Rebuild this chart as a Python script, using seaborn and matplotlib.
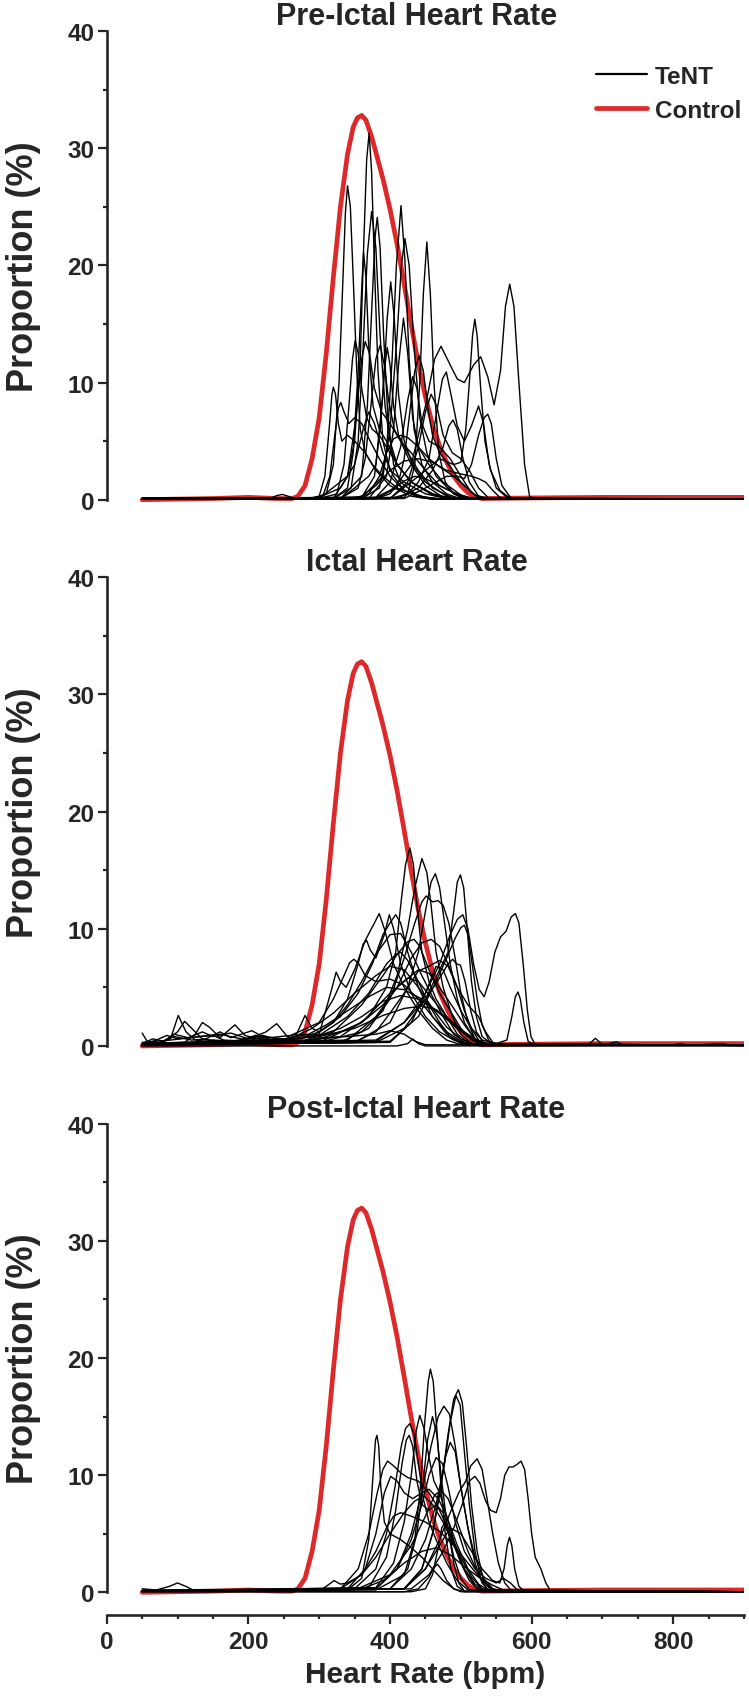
import numpy as np
import pandas as pd
import matplotlib
matplotlib.use("Agg")
import matplotlib.pyplot as plt
import seaborn as sns
from matplotlib.lines import Line2D
from matplotlib.ticker import MultipleLocator

# ---------------- data ----------------
panel_titles = ["Pre-Ictal Heart Rate", "Ictal Heart Rate", "Post-Ictal Heart Rate"]
x_label = "Heart Rate (bpm)"
y_label = "Proportion (%)"
legend_labels = ["TeNT", "Control"]
x_ticks = [0, 200, 400, 600, 800]
y_ticks = [0, 10, 20, 30, 40]

# Control (same distribution shown in every panel): (heart rate, proportion %)
control_curve = [(50, 0.0), (100, 0.05), (150, 0.1), (200, 0.2), (240, 0.1), (262, 0.1),
                 (270, 0.3), (280, 1.2), (290, 3.5), (300, 7.0), (310, 12.5), (320, 19.0),
                 (330, 25.0), (340, 29.5), (348, 31.8), (354, 32.6), (360, 32.8), (366, 32.4),
                 (374, 31.0), (382, 29.2), (390, 27.4), (400, 24.8), (410, 21.8), (420, 18.4),
                 (430, 14.9), (440, 11.6), (450, 8.8), (460, 6.4), (470, 4.6), (480, 3.2),
                 (490, 2.0), (500, 1.2), (510, 0.6), (520, 0.25), (530, 0.1), (600, 0.15),
                 (700, 0.2), (800, 0.2), (900, 0.2)]

# TeNT animals, pre-ictal period
pre_ictal_tent = [
    [(50,0.1),(300,0.1),(340,2.0),(350,5.0),(358,12.0),(363,22.0),(367,29.0),(370.5,31.3),(374,28.0),(378,20.0),(383,11.0),(390,5.0),(400,2.5),(420,1.5),(450,0.5),(480,0.1),(900,0.05)],
    [(50,0.1),(290,0.1),(310,0.5),(320,3.0),(328,10.0),(333,18.0),(337,24.5),(340,26.8),(344,25.0),(348,19.0),(353,11.0),(358,6.0),(365,4.0),(375,3.0),(390,2.0),(410,1.0),(440,0.3),(470,0.05),(900,0.05)],
    [(50,0.05),(320,0.1),(345,1.0),(355,5.0),(362,13.0),(368,21.0),(374,24.6),(380,21.5),(386,14.0),(393,8.0),(400,5.0),(410,3.0),(430,1.5),(460,0.5),(490,0.05),(900,0.05)],
    [(50,0.1),(330,0.1),(360,2.0),(368,8.0),(374,16.0),(379,22.5),(382,24.1),(386,21.5),(391,14.0),(397,7.0),(405,3.0),(415,1.5),(440,0.3),(470,0.05),(900,0.05)],
    [(50,0.1),(320,0.1),(340,1.0),(348,4.0),(355,11.0),(360,18.0),(362.6,21.1),(366,19.0),(370,13.0),(376,8.0),(385,6.0),(395,5.0),(410,3.0),(430,1.5),(460,0.5),(490,0.05),(900,0.05)],
    [(50,0.05),(360,0.1),(385,1.0),(395,4.0),(403,12.0),(409,20.0),(415.5,25.1),(421,20.5),(427,12.0),(434,6.0),(445,3.0),(460,1.5),(480,0.5),(500,0.05),(900,0.05)],
    [(50,0.1),(360,0.2),(390,2.0),(400,6.0),(410,14.0),(416,20.0),(421,22.3),(427,20.0),(434,13.0),(442,7.0),(452,4.0),(465,2.0),(490,0.5),(510,0.05),(900,0.05)],
    [(50,0.05),(400,0.1),(425,0.5),(435,3.0),(442,10.0),(447,17.5),(452,22.0),(457,17.5),(462,10.0),(469,4.0),(478,1.5),(490,0.5),(505,0.05),(900,0.05)],
    [(50,0.1),(380,0.1),(400,0.5),(430,3.0),(450,8.0),(463,12.0),(472,13.1),(485,11.5),(495,10.3),(505,10.0),(518,11.5),(528,12.2),(538,10.5),(547,8.1),(556,11.0),(563,16.5),(569,18.4),(575,16.5),(582,10.0),(590,3.0),(597,0.3),(605,0.05),(900,0.05)],
    [(50,0.05),(400,0.1),(440,2.0),(470,3.5),(490,3.0),(500,3.2),(507,6.0),(512,10.0),(516.5,14.0),(519.7,15.4),(523,14.0),(528,9.5),(534,5.0),(542,2.5),(555,0.8),(570,0.1),(900,0.05)],
    [(50,0.1),(330,0.1),(350,1.0),(370,2.0),(380,3.0),(390,9.0),(396,15.5),(401,18.6),(406,15.5),(412,9.0),(420,5.0),(432,3.0),(450,1.5),(480,0.3),(500,0.05),(900,0.05)],
    [(50,0.05),(370,0.1),(395,2.0),(405,6.0),(412,11.5),(419,15.5),(425,12.5),(432,7.0),(440,4.5),(455,3.0),(475,1.5),(500,0.4),(520,0.05),(900,0.05)],
    [(50,0.1),(420,0.2),(440,1.5),(455,3.5),(466,7.5),(474,10.3),(479.5,10.9),(486,9.0),(495,6.3),(505,5.0),(515,6.3),(525,8.0),(532,6.5),(540,3.0),(550,1.0),(565,0.2),(580,0.05),(900,0.05)],
    [(50,0.05),(420,0.1),(450,1.0),(480,2.0),(495,2.0),(505,1.8),(515,3.0),(525,5.5),(533,7.0),(538,7.3),(543,6.5),(550,3.5),(558,1.2),(570,0.2),(585,0.05),(900,0.05)],
    [(50,0.1),(300,0.1),(325,0.5),(335,3.0),(342,8.0),(347,12.0),(350.8,13.6),(355,12.5),(360,9.5),(367,7.0),(375,6.0),(385,5.5),(395,4.5),(410,3.0),(430,1.5),(460,0.4),(490,0.05),(900,0.05)],
    [(50,0.05),(285,0.1),(300,0.3),(308,2.0),(314,6.0),(318,9.0),(320,9.6),(323,9.0),(327,6.5),(332,5.0),(340,5.5),(350,5.0),(365,4.0),(380,2.5),(400,1.2),(430,0.3),(460,0.05),(900,0.05)],
    [(50,0.1),(290,0.1),(305,0.3),(315,2.0),(322,5.5),(327,7.8),(330.5,8.3),(335,7.5),(342,6.5),(350,7.0),(360,6.5),(372,5.0),(385,3.5),(400,2.0),(420,0.8),(450,0.2),(480,0.05),(900,0.05)],
    [(50,0.05),(330,0.1),(355,1.0),(365,3.5),(373,8.0),(380,12.0),(386,13.2),(392,11.5),(398,8.5),(406,6.0),(415,5.0),(430,4.0),(450,2.5),(470,1.2),(500,0.3),(520,0.05),(900,0.05)],
    [(50,0.1),(380,0.1),(410,1.0),(420,3.5),(428,7.5),(435,11.0),(441,12.3),(447,11.0),(453,8.0),(460,5.5),(470,4.0),(485,2.8),(500,1.5),(520,0.4),(540,0.05),(900,0.05)],
    [(50,0.05),(410,0.1),(440,1.0),(460,2.5),(475,4.5),(483,6.3),(489,6.8),(495,6.0),(503,3.5),(512,1.5),(525,0.3),(540,0.05),(900,0.05)],
    [(50,0.1),(340,0.1),(360,0.3),(380,1.2),(400,2.5),(420,3.3),(440,3.5),(460,3.2),(480,2.5),(500,2.2),(515,2.0),(525,1.8),(535,1.5),(545,0.8),(555,0.2),(570,0.05),(900,0.05)],
    [(50,0.05),(350,0.1),(370,0.5),(385,2.0),(395,4.0),(405,5.2),(415,5.5),(425,5.3),(440,4.5),(455,3.5),(470,2.8),(490,2.0),(505,1.2),(520,0.4),(535,0.05),(900,0.05)],
    [(50,0.1),(360,0.1),(380,0.2),(400,0.8),(420,1.6),(435,2.0),(450,1.8),(470,1.2),(490,0.6),(510,0.2),(530,0.05),(900,0.05)],
    [(50,0.15),(230,0.1),(240,0.35),(248,0.45),(256,0.3),(265,0.1),(300,0.2),(330,1.0),(350,3.0),(362,6.0),(370,7.5),(378,6.5),(390,4.0),(405,2.0),(420,0.8),(440,0.2),(460,0.05),(900,0.05)],
    [(50,0.1),(360,0.2),(378,2.0),(386,6.0),(392,11.0),(396,13.0),(400,11.5),(405,8.0),(412,5.5),(425,4.0),(440,2.5),(460,1.0),(490,0.1),(900,0.05)],
    [(50,0.1),(380,0.2),(400,1.5),(415,4.5),(425,8.5),(432,10.5),(438,9.5),(445,6.5),(455,5.0),(470,4.5),(485,3.5),(500,2.0),(515,0.6),(530,0.05),(900,0.05)],
    [(50,0.05),(320,0.1),(340,2.0),(352,7.0),(360,12.0),(365,13.5),(371,12.5),(378,9.5),(388,7.5),(400,6.5),(415,5.0),(430,3.0),(450,1.2),(475,0.2),(900,0.05)],
    [(50,0.1),(400,0.1),(425,1.5),(440,4.5),(450,7.5),(458,9.0),(466,8.0),(475,5.5),(488,4.0),(500,3.5),(512,2.5),(525,1.0),(540,0.1),(900,0.05)],
]

# TeNT animals, ictal period
ictal_tent = [
    [(50,1.1),(58,0.3),(70,0.2),(90,0.6),(101,2.6),(112,1.2),(125,0.5),(140,0.4),(170,0.3),(200,0.3),(240,0.4),(270,0.6),(300,1.2),(330,2.5),(355,4.5),(375,7.0),(390,9.5),(400,10.5),(408,11.2),(415,10.5),(425,8.0),(440,5.0),(460,2.5),(480,1.0),(500,0.3),(520,0.1),(900,0.05)],
    [(50,0.1),(80,0.3),(100,1.2),(110,2.1),(120,1.5),(135,0.6),(160,0.4),(200,0.5),(250,0.5),(290,0.8),(320,2.0),(340,4.0),(355,7.0),(362,8.7),(367,9.0),(372,8.2),(380,7.5),(392,9.5),(399,11.2),(405,10.0),(415,7.0),(430,4.5),(450,2.5),(470,1.2),(490,0.5),(510,0.1),(900,0.05)],
    [(50,0.2),(110,0.3),(125,1.0),(135,2.0),(145,1.6),(160,0.7),(181,1.8),(195,0.9),(220,0.5),(250,0.5),(280,0.7),(300,1.0),(316,4.5),(324,6.3),(330,5.5),(338,5.0),(350,6.5),(365,9.0),(378,10.5),(384.7,11.3),(392,10.0),(405,7.0),(420,5.0),(440,3.0),(460,1.5),(480,0.5),(500,0.1),(900,0.05)],
    [(50,0.1),(150,0.2),(200,0.6),(225,1.2),(240,1.9),(255,0.8),(268,1.0),(280,2.6),(290,1.5),(300,1.2),(320,2.0),(340,3.5),(360,5.5),(380,7.8),(400,9.5),(415,9.6),(430,8.0),(445,6.0),(460,4.2),(475,2.5),(490,1.0),(505,0.3),(520,0.1),(900,0.05)],
    [(50,0.1),(250,0.2),(330,0.8),(370,2.5),(395,5.0),(408,8.0),(416,12.5),(422,15.5),(428,16.9),(433,15.5),(438,12.0),(445,8.0),(455,5.5),(465,4.0),(480,2.5),(495,1.0),(510,0.3),(530,0.05),(900,0.05)],
    [(50,0.1),(300,0.3),(360,1.2),(390,3.0),(410,6.0),(425,10.0),(435,13.5),(445,16.0),(452,14.8),(458,12.0),(465,8.0),(475,5.0),(488,2.5),(500,1.0),(515,0.2),(900,0.05)],
    [(50,0.1),(350,0.3),(400,2.0),(425,5.0),(440,8.0),(450,11.5),(458,14.0),(464,14.7),(470,13.5),(477,10.5),(485,7.0),(495,4.0),(505,2.0),(520,0.5),(540,0.1),(900,0.05)],
    [(50,0.1),(380,0.3),(420,1.5),(450,4.0),(470,6.5),(482,8.0),(490,11.5),(495,14.0),(499.4,14.6),(504,13.5),(509,10.0),(515,5.5),(522,2.5),(530,0.8),(545,0.1),(900,0.05)],
    [(50,0.1),(380,0.5),(420,2.0),(450,4.5),(470,7.0),(485,9.5),(495,10.8),(502.7,11.2),(510,10.0),(518,7.0),(526,4.8),(533,4.2),(540,5.5),(548,8.0),(556,9.3),(564,9.8),(571,11.0),(577,11.3),(582,10.5),(588,7.0),(594,3.0),(599,0.8),(605,0.1),(900,0.05)],
    [(50,0.1),(400,0.3),(430,2.0),(450,4.5),(465,6.8),(475,6.5),(485,5.0),(500,3.0),(515,1.5),(530,0.5),(550,0.2),(565,0.5),(572,2.5),(577,4.2),(580.6,4.6),(584,4.0),(589,2.0),(595,0.4),(605,0.05),(900,0.05)],
    [(50,0.1),(330,0.3),(370,1.5),(400,4.0),(420,7.5),(435,10.5),(445,12.3),(451,12.8),(460,12.3),(468,12.4),(475,12.0),(483,10.5),(492,7.5),(500,4.5),(510,2.0),(520,0.6),(535,0.1),(900,0.05)],
    [(50,0.1),(340,0.5),(380,2.5),(410,5.0),(430,7.5),(445,8.8),(458,9.1),(470,8.5),(482,7.0),(495,5.0),(505,3.0),(515,1.5),(525,0.5),(540,0.1),(900,0.05)],
    [(50,0.1),(200,0.3),(280,0.5),(320,1.2),(360,3.5),(390,6.0),(410,7.8),(425,8.9),(434,9.1),(442,8.5),(455,6.5),(470,4.5),(485,3.0),(500,1.5),(515,0.5),(530,0.1),(900,0.05)],
    [(50,0.1),(400,0.4),(440,2.5),(465,5.5),(480,7.5),(492,9.2),(500,10.1),(505,10.3),(510,9.5),(516,7.0),(523,4.0),(530,1.8),(540,0.4),(555,0.05),(900,0.05)],
    [(50,0.1),(380,0.4),(420,2.0),(450,4.0),(470,5.8),(482,7.0),(488.6,7.4),(494,7.0),(499.4,6.9),(506,5.5),(514,3.0),(522,1.2),(532,0.3),(545,0.05),(900,0.05)],
    [(50,0.2),(150,0.4),(250,0.5),(300,0.9),(340,2.5),(370,4.5),(395,7.0),(408,7.8),(415,8.0),(425,7.3),(440,5.5),(455,3.5),(470,2.0),(485,0.8),(500,0.2),(900,0.05)],
    [(50,0.3),(90,0.5),(130,0.8),(160,1.0),(190,0.6),(230,0.7),(260,0.9),(300,2.0),(320,4.0),(335,6.0),(343,7.1),(349,7.4),(356,7.0),(365,6.0),(380,5.5),(400,5.7),(420,5.2),(440,4.0),(460,2.5),(480,1.2),(500,0.4),(520,0.1),(900,0.05)],
    [(50,0.2),(200,0.4),(300,0.8),(350,1.5),(390,2.6),(420,3.2),(445,3.4),(465,3.1),(485,2.2),(505,1.2),(525,0.4),(545,0.1),(900,0.05)],
    [(50,0.05),(270,0.3),(300,0.7),(340,0.8),(380,1.0),(400,1.3),(420,1.0),(435,0.4),(450,0.1),(900,0.05)],
    [(50,0.0),(410,0.0),(425,0.2),(432,0.6),(440,0.2),(450,0.0),(900,0.0)],
    [(50,0.1),(300,0.3),(360,2.0),(400,4.5),(420,5.5),(440,6.5),(455,6.2),(470,5.0),(490,3.2),(505,1.8),(520,0.6),(540,0.1),(620,0.1),(680,0.1),(690,0.65),(700,0.1),(720,0.35),(730,0.05),(800,0.1),(810,0.2),(820,0.05),(870,0.2),(880,0.05),(900,0.1)],
    [(50,0.1),(350,0.3),(380,1.2),(400,2.8),(420,4.5),(440,6.4),(455,6.8),(470,7.3),(482,6.8),(495,5.0),(510,3.5),(525,2.5),(535,1.2),(545,0.3),(555,0.05),(900,0.05)],
    [(50,0.1),(70,0.5),(85,0.9),(100,0.6),(150,0.9),(165,0.5),(200,0.4),(215,0.7),(230,0.4),(270,0.4),(300,0.6),(330,1.2),(360,2.0),(390,3.5),(410,5.0),(425,5.8),(440,5.5),(460,4.0),(480,2.5),(500,1.3),(520,0.5),(540,0.1),(900,0.05)],
    [(50,0.2),(65,0.6),(80,0.4),(95,1.0),(115,0.7),(135,1.2),(150,0.8),(175,1.1),(200,0.6),(220,0.9),(245,0.5),(265,0.8),(290,1.5),(320,2.8),(350,4.5),(380,6.0),(400,6.8),(420,6.5),(440,5.0),(460,3.2),(480,1.6),(500,0.6),(520,0.1),(900,0.05)],
    [(50,0.1),(75,0.3),(95,0.8),(120,0.5),(140,0.6),(160,1.2),(175,0.7),(205,1.3),(220,0.8),(250,0.6),(285,1.0),(310,1.8),(340,3.0),(370,4.2),(395,5.0),(420,4.8),(445,4.0),(470,2.8),(495,1.5),(515,0.6),(535,0.1),(900,0.05)],
    [(50,0.05),(120,0.2),(150,0.5),(185,0.4),(210,0.9),(235,0.5),(255,0.6),(275,1.0),(300,0.9),(330,1.5),(360,2.5),(390,3.8),(415,4.3),(440,4.0),(465,3.0),(490,1.8),(510,0.8),(530,0.2),(900,0.05)],
]

# TeNT animals, post-ictal period
post_ictal_tent = [
    [(50,0.1),(380,0.2),(420,1.5),(435,4.5),(443,9.0),(449,14.5),(454,18.0),(457,19.05),(461,18.0),(466,14.0),(472,9.0),(478,5.0),(486,2.0),(495,0.5),(505,0.1),(900,0.05)],
    [(50,0.1),(420,0.3),(445,2.0),(460,5.0),(472,9.0),(482,13.5),(490,16.5),(496.5,17.3),(502,16.2),(508,12.5),(515,7.5),(523,3.5),(532,1.0),(542,0.2),(900,0.05)],
    [(50,0.1),(400,0.3),(430,2.0),(450,4.5),(465,7.5),(477,11.0),(485,14.5),(493,16.8),(499,16.0),(505,12.0),(512,7.5),(520,3.5),(528,1.2),(538,0.2),(900,0.05)],
    [(50,0.1),(380,0.3),(410,2.0),(430,5.0),(445,8.5),(458,12.5),(468,15.0),(476,15.9),(484,15.2),(492,12.5),(500,9.0),(510,5.5),(520,3.0),(532,1.2),(545,0.3),(560,0.05),(900,0.05)],
    [(50,0.1),(350,0.3),(380,2.0),(395,5.0),(407,9.0),(416,12.5),(422,14.0),(428,14.4),(434,13.5),(440,11.0),(447,8.0),(455,6.0),(465,4.5),(480,2.5),(495,1.0),(510,0.2),(900,0.05)],
    [(50,0.1),(400,0.3),(425,2.0),(438,5.0),(446,9.0),(453,13.0),(460,15.0),(466,13.5),(472,10.0),(480,6.0),(490,3.0),(500,1.2),(512,0.2),(900,0.05)],
    [(50,0.1),(380,0.4),(405,2.5),(420,6.0),(430,10.0),(437,13.8),(442,15.1),(448,14.0),(455,11.5),(462,9.5),(470,8.5),(480,6.5),(492,4.0),(505,2.0),(520,0.5),(535,0.1),(900,0.05)],
    [(50,0.1),(340,0.2),(360,1.2),(370,4.5),(376,10.0),(379.5,13.0),(381.5,13.4),(384,12.5),(387,9.0),(392,6.0),(400,5.0),(415,4.5),(430,3.8),(445,3.0),(460,2.0),(475,1.0),(490,0.3),(505,0.05),(900,0.05)],
    [(50,0.1),(370,0.4),(395,3.0),(408,7.0),(417,11.0),(423,13.0),(427,13.4),(432,12.5),(438,9.5),(445,7.5),(455,7.0),(465,7.5),(475,6.8),(488,4.5),(500,2.5),(512,1.0),(525,0.2),(900,0.05)],
    [(50,0.1),(330,0.3),(355,2.0),(370,5.0),(382,8.5),(390,10.5),(396.5,11.2),(405,10.8),(415,10.2),(425,9.8),(440,9.5),(455,8.5),(470,7.0),(485,5.0),(500,3.0),(515,1.3),(530,0.3),(545,0.05),(900,0.05)],
    [(50,0.1),(420,0.3),(450,2.0),(470,4.5),(485,6.8),(497,8.5),(507,9.5),(514,10.8),(523,11.4),(530,10.5),(537,8.0),(545,5.0),(553,2.5),(562,0.8),(572,0.1),(900,0.05)],
    [(50,0.1),(430,0.3),(455,1.5),(475,3.5),(490,5.5),(502,7.5),(512,9.5),(520,9.9),(527,9.3),(535,7.8),(542,7.0),(550,6.8),(556,8.0),(562,10.0),(568,10.7),(573.5,10.7),(579,10.9),(585,11.2),(590,10.5),(595,8.0),(600,5.0),(605,3.0),(613,2.0),(620,0.8),(627,0.1),(900,0.05)],
    [(50,0.1),(420,0.3),(450,2.0),(470,4.0),(485,5.5),(500,5.0),(515,3.5),(530,2.0),(545,1.0),(555,0.8),(561,2.0),(565.5,4.0),(568.7,4.7),(572,4.0),(576,2.0),(582,0.5),(590,0.1),(900,0.05)],
    [(50,0.1),(340,0.3),(365,2.0),(380,5.0),(392,8.5),(401,9.9),(410,9.5),(420,8.5),(432,8.0),(445,8.5),(455,8.8),(468,8.0),(480,6.5),(495,4.0),(510,2.0),(525,0.7),(540,0.1),(900,0.05)],
    [(50,0.05),(420,0.05),(440,0.3),(455,1.3),(462,2.1),(467,2.4),(472,2.0),(480,1.0),(490,0.3),(500,0.05),(900,0.05)],
    [(50,0.1),(300,0.1),(312,0.6),(321,1.0),(330,0.7),(340,0.8),(360,1.5),(380,3.0),(400,5.0),(420,6.8),(435,7.8),(448,8.2),(460,7.5),(475,6.0),(490,4.0),(505,2.0),(520,0.7),(535,0.1),(900,0.05)],
    [(50,0.3),(70,0.2),(88,0.5),(100,0.8),(112,0.5),(125,0.1),(200,0.1),(350,0.2),(400,1.5),(430,4.0),(450,6.5),(463,8.3),(472,8.7),(482,8.0),(495,6.0),(510,3.5),(525,1.5),(540,0.4),(555,0.05),(900,0.05)],
    [(50,0.2),(330,0.3),(360,1.5),(380,3.5),(395,5.5),(405,6.5),(415,6.8),(430,6.5),(450,6.0),(470,5.2),(490,4.0),(510,2.5),(530,1.0),(545,0.3),(560,0.05),(900,0.05)],
    [(50,0.1),(420,0.3),(445,2.0),(460,5.0),(470,8.5),(478,11.5),(485,12.8),(492,12.0),(500,9.0),(510,5.5),(520,2.5),(530,0.8),(540,0.1),(900,0.05)],
    [(50,0.1),(380,0.3),(410,2.0),(430,4.5),(445,7.5),(455,10.0),(465,11.5),(474,11.0),(482,9.0),(492,6.0),(505,3.5),(520,2.0),(535,1.2),(550,0.8),(560,1.2),(570,0.8),(580,0.2),(590,0.05),(900,0.05)],
    [(50,0.1),(360,0.3),(390,1.0),(420,2.5),(445,3.5),(465,3.8),(485,3.2),(505,2.2),(525,1.3),(545,0.6),(560,0.2),(575,0.05),(900,0.05)],
    [(50,0.05),(430,0.05),(450,0.3),(460,1.5),(467,3.5),(473,5.5),(478,6.0),(483,5.0),(490,2.5),(497,0.8),(505,0.1),(900,0.05)],
]


def curves_to_frame(curves, phase):
    rows = []
    for i, curve in enumerate(curves):
        for hr, pct in curve:
            rows.append((phase, f"{phase}-{i + 1}", hr, pct))
    return pd.DataFrame(rows, columns=["phase", "animal", "hr", "pct"])


control_df = pd.DataFrame(control_curve, columns=["hr", "pct"])
tent_frames = [curves_to_frame(pre_ictal_tent, "pre"),
               curves_to_frame(ictal_tent, "ictal"),
               curves_to_frame(post_ictal_tent, "post")]

# ---------------- style ----------------
sns.set_style("ticks")
plt.rcParams["font.family"] = ["Liberation Sans", "DejaVu Sans"]
plt.rcParams["font.weight"] = "bold"
plt.rcParams["axes.labelweight"] = "bold"
plt.rcParams["axes.titleweight"] = "bold"

RED = "#dc2a2a"
fig = plt.figure(figsize=(7.49, 16.99), dpi=100)
positions = [[0.1425, 0.6984, 0.851, 0.2827],
             [0.1425, 0.3769, 0.851, 0.2827],
             [0.1425, 0.0553, 0.851, 0.2827]]

for k, (pos, title, tent_df) in enumerate(zip(positions, panel_titles, tent_frames)):
    ax = fig.add_axes(pos)
    sns.lineplot(data=control_df, x="hr", y="pct", color=RED, lw=3.4,
                 ax=ax, legend=False, zorder=2)
    sns.lineplot(data=tent_df, x="hr", y="pct", units="animal", estimator=None,
                 color="black", lw=1.0, ax=ax, legend=False, zorder=3)
    for line in ax.get_lines():
        line.set_solid_joinstyle("round")

    ax.set_xlim(0, 900)
    ax.set_ylim(-1, 40)
    ax.set_yticks(y_ticks)
    ax.yaxis.set_minor_locator(MultipleLocator(5))
    for s in ["top", "right"]:
        ax.spines[s].set_visible(False)
    ax.spines["left"].set_bounds(0, 40)
    ax.spines["left"].set_linewidth(1.9)
    ax.tick_params(axis="y", which="major", length=6.5, width=1.6, labelsize=17.5, pad=2.5)
    ax.tick_params(axis="y", which="minor", length=3, width=1.6)

    ax.set_ylabel(y_label, fontsize=26)
    ax.yaxis.label.set_verticalalignment("center")
    ax.yaxis.set_label_coords(-0.131, 0.512)
    ax.set_title(title, fontsize=22, pad=1, x=0.486)

    if k < 2:
        ax.spines["bottom"].set_visible(False)
        ax.tick_params(axis="x", which="both", bottom=False, labelbottom=False)
        ax.set_xlabel("")
    else:
        ax.spines["bottom"].set_position(("outward", 8))
        ax.spines["bottom"].set_bounds(0, 900)
        ax.spines["bottom"].set_linewidth(1.9)
        ax.set_xticks(x_ticks)
        ax.xaxis.set_minor_locator(MultipleLocator(50))
        ax.tick_params(axis="x", which="major", length=6.5, width=1.6, labelsize=17.5, pad=4)
        ax.tick_params(axis="x", which="minor", length=3, width=1.6)
        ax.set_xlabel(x_label, fontsize=21.5, labelpad=5)

    if k == 0:
        handles = [Line2D([], [], color="black", lw=1.6),
                   Line2D([], [], color=RED, lw=3.4)]
        ax.legend(handles, legend_labels, loc="center left",
                  bbox_to_anchor=(0.767, 0.871), frameon=False,
                  handlelength=2.1, handletextpad=0.35, labelspacing=0.45,
                  borderpad=0, borderaxespad=0,
                  prop={"size": 17.5, "weight": "bold"})

fig.savefig("out.png", dpi=100)
